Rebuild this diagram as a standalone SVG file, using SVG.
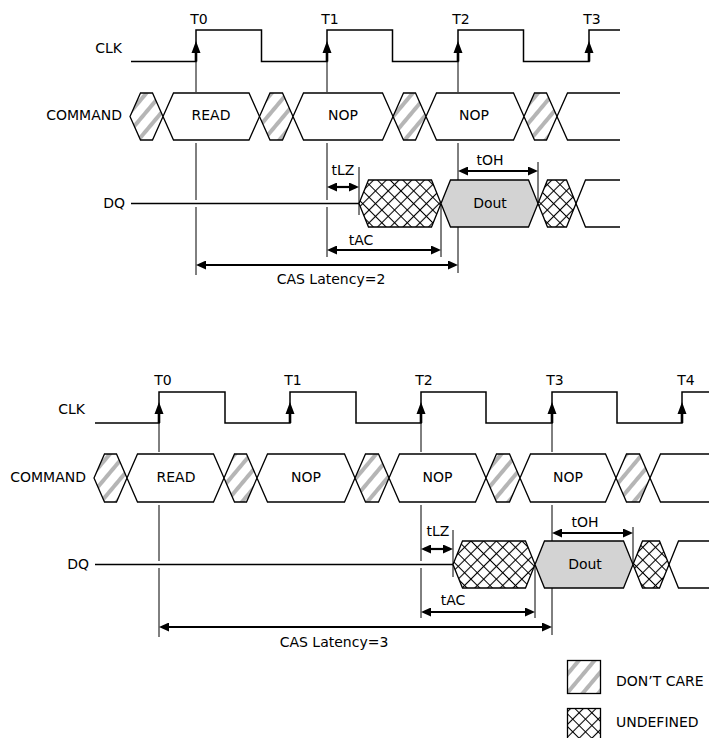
<svg xmlns="http://www.w3.org/2000/svg" width="709" height="738" viewBox="0 0 709 738">
<style>
.lbl{font-family:"DejaVu Sans","Liberation Sans",sans-serif;font-size:14px;fill:#000}
.mid{text-anchor:middle}
.end{text-anchor:end}
.sig{fill:none;stroke:#000;stroke-width:1.5}
.edge{fill:none;stroke:#000;stroke-width:2.6}
.ah{fill:#000;stroke:none}
.bus{stroke:#000;stroke-width:1.3;fill:#fff}
.open{fill:none;stroke:#000;stroke-width:1.3}
.dc{fill:url(#dc);stroke:#000;stroke-width:1.3}
.xh{fill:url(#xh);stroke:#000;stroke-width:1.3}
.dout{fill:#d3d3d3;stroke:#000;stroke-width:1.3}
.ref{fill:none;stroke:#000;stroke-width:1}
.dim{fill:none;stroke:#000;stroke-width:2.2;marker-start:url(#arr);marker-end:url(#arr)}
</style>
<defs>
<pattern id="dc" width="12" height="12" patternUnits="userSpaceOnUse" patternTransform="rotate(40)">
<rect width="12" height="12" fill="#fff"/>
<rect x="2" width="4" height="12" fill="#b5b5b5"/>
</pattern>
<pattern id="xh" width="9" height="9" patternUnits="userSpaceOnUse" patternTransform="rotate(45)">
<rect width="9" height="9" fill="#fff"/>
<path d="M0,4.5 H9 M4.5,0 V9" stroke="#000" stroke-width="1.1"/>
</pattern>
<marker id="arr" viewBox="0 0 10 9" refX="7" refY="4.5" markerWidth="10" markerHeight="9" markerUnits="userSpaceOnUse" orient="auto-start-reverse">
<path d="M0,0 L10,4.5 L0,9 z" fill="#000"/>
</marker>
</defs>

<!-- ===== Top: CAS Latency = 2 ===== -->
<g id="clk-top">
<text class="lbl end" x="122" y="53">CLK</text>
<path class="sig" d="M131,61.5 H196 V30 H261.5 V61.5 H327 V30 H392.5 V61.5 H458 V30 H523.5 V61.5 H589 V30 H620"/>
<path class="edge" d="M196,61.5 V52 M327,61.5 V52 M458,61.5 V52 M589,61.5 V52"/>
<path class="ah" d="M196,41 l-4.5,12 h9 z M327,41 l-4.5,12 h9 z M458,41 l-4.5,12 h9 z M589,41 l-4.5,12 h9 z"/>
<text class="lbl mid" x="199" y="24">T0</text>
<text class="lbl mid" x="330" y="24">T1</text>
<text class="lbl mid" x="461" y="24">T2</text>
<text class="lbl mid" x="592" y="24">T3</text>
</g>

<g id="cmd-top">
<text class="lbl end" x="122" y="120">COMMAND</text>
<polygon class="dc" points="130,116.5 140.5,93 152.5,93 163,116.5 152.5,140 140.5,140"/>
<polygon class="bus" points="163,116.5 173.5,93 249,93 259.5,116.5 249,140 173.5,140"/>
<polygon class="dc" points="259.5,116.5 270,93 282.5,93 293,116.5 282.5,140 270,140"/>
<polygon class="bus" points="293,116.5 303.5,93 382.5,93 393,116.5 382.5,140 303.5,140"/>
<polygon class="dc" points="393,116.5 403.5,93 415.5,93 426,116.5 415.5,140 403.5,140"/>
<polygon class="bus" points="426,116.5 436.5,93 513.5,93 524,116.5 513.5,140 436.5,140"/>
<polygon class="dc" points="524,116.5 534.5,93 546.5,93 557,116.5 546.5,140 534.5,140"/>
<path class="open" d="M620,93 H567.5 L557,116.5 L567.5,140 H620"/>
<text class="lbl mid" x="211" y="120">READ</text>
<text class="lbl mid" x="343" y="120">NOP</text>
<text class="lbl mid" x="474" y="120">NOP</text>
</g>

<g id="connectors-top">
<path class="ref" d="M196,61.5 V92 M196,143 V200 M196,207 V275"/>
<path class="ref" d="M327,61.5 V92 M327,143 V200 M327,207 V257"/>
<path class="ref" d="M458,61.5 V92 M458,143 V273"/>
<path class="ref" d="M359,167 V215 M441,203.5 V257 M538,162 V203.5"/>
<line class="dim" x1="330" y1="187" x2="356" y2="187"/>
<line class="dim" x1="330" y1="250" x2="438" y2="250"/>
<line class="dim" x1="461" y1="171" x2="535" y2="171"/>
<line class="dim" x1="199" y1="265" x2="455" y2="265"/>
</g>

<g id="dq-top">
<text class="lbl end" x="125" y="208">DQ</text>
<path class="sig" style="stroke-width:1.3" d="M131,203.5 H359"/>
<polygon class="xh" points="359,203.5 368.5,180 431.5,180 441,203.5 431.5,227 368.5,227"/>
<polygon class="dout" points="441,203.5 450.5,180 528.5,180 538,203.5 528.5,227 450.5,227"/>
<polygon class="xh" points="538,203.5 547.5,180 566.5,180 576,203.5 566.5,227 547.5,227"/>
<path class="open" d="M620,180 H585.5 L576,203.5 L585.5,227 H620"/>
<text class="lbl mid" x="490" y="208">Dout</text>
</g>

<g id="labels-top">
<text class="lbl mid" x="343" y="175">tLZ</text>
<text class="lbl mid" x="361" y="245">tAC</text>
<text class="lbl mid" x="490" y="165">tOH</text>
<text class="lbl mid" x="331" y="284">CAS Latency=2</text>
</g>

<!-- ===== Bottom: CAS Latency = 3 ===== -->
<g id="clk-bottom">
<text class="lbl end" x="85" y="414">CLK</text>
<path class="sig" d="M95,423 H159 V392 H225 V423 H290 V392 H356 V423 H421 V392 H486 V423 H552 V392 H617 V423 H682 V392 H709"/>
<path class="edge" d="M159,423 V413 M290,423 V413 M421,423 V413 M552,423 V413 M682,423 V413"/>
<path class="ah" d="M159,402 l-4.5,12 h9 z M290,402 l-4.5,12 h9 z M421,402 l-4.5,12 h9 z M552,402 l-4.5,12 h9 z M682,402 l-4.5,12 h9 z"/>
<text class="lbl mid" x="163" y="385">T0</text>
<text class="lbl mid" x="293" y="385">T1</text>
<text class="lbl mid" x="424" y="385">T2</text>
<text class="lbl mid" x="555" y="385">T3</text>
<text class="lbl mid" x="686" y="385">T4</text>
</g>

<g id="cmd-bottom">
<text class="lbl end" x="86" y="482">COMMAND</text>
<polygon class="dc" points="94,478 104.5,454 116.5,454 127,478 116.5,502 104.5,502"/>
<polygon class="bus" points="127,478 137.5,454 213.5,454 224,478 213.5,502 137.5,502"/>
<polygon class="dc" points="224,478 234.5,454 246.5,454 257,478 246.5,502 234.5,502"/>
<polygon class="bus" points="257,478 267.5,454 344.5,454 355,478 344.5,502 267.5,502"/>
<polygon class="dc" points="355,478 365.5,454 378.5,454 389,478 378.5,502 365.5,502"/>
<polygon class="bus" points="389,478 399.5,454 475.5,454 486,478 475.5,502 399.5,502"/>
<polygon class="dc" points="486,478 496.5,454 509.5,454 520,478 509.5,502 496.5,502"/>
<polygon class="bus" points="520,478 530.5,454 605.5,454 616,478 605.5,502 530.5,502"/>
<polygon class="dc" points="616,478 626.5,454 639.5,454 650,478 639.5,502 626.5,502"/>
<path class="open" d="M709,454 H660.5 L650,478 L660.5,502 H709"/>
<text class="lbl mid" x="176" y="482">READ</text>
<text class="lbl mid" x="306" y="482">NOP</text>
<text class="lbl mid" x="437.5" y="482">NOP</text>
<text class="lbl mid" x="568" y="482">NOP</text>
</g>

<g id="connectors-bottom">
<path class="ref" d="M159,423 V452 M159,505 V561 M159,568 V637"/>
<path class="ref" d="M421,423 V452 M421,505 V561 M421,568 V618"/>
<path class="ref" d="M552,423 V452 M552,505 V635"/>
<path class="ref" d="M453,530 V577 M535,564.5 V618 M633,527 V564.5"/>
<line class="dim" x1="424" y1="549" x2="450" y2="549"/>
<line class="dim" x1="424" y1="612" x2="532" y2="612"/>
<line class="dim" x1="555" y1="533" x2="630" y2="533"/>
<line class="dim" x1="162" y1="627" x2="549" y2="627"/>
</g>

<g id="dq-bottom">
<text class="lbl end" x="89" y="569">DQ</text>
<path class="sig" style="stroke-width:1.3" d="M95,564.5 H453"/>
<polygon class="xh" points="453,564.5 462.5,541 525.5,541 535,564.5 525.5,588 462.5,588"/>
<polygon class="dout" points="535,564.5 544.5,541 623.5,541 633,564.5 623.5,588 544.5,588"/>
<polygon class="xh" points="633,564.5 642.5,541 659.5,541 669,564.5 659.5,588 642.5,588"/>
<path class="open" d="M709,541 H678.5 L669,564.5 L678.5,588 H709"/>
<text class="lbl mid" x="585" y="569">Dout</text>
</g>

<g id="labels-bottom">
<text class="lbl mid" x="438" y="536">tLZ</text>
<text class="lbl mid" x="453" y="605">tAC</text>
<text class="lbl mid" x="585" y="527">tOH</text>
<text class="lbl mid" x="334" y="647">CAS Latency=3</text>
</g>

<!-- ===== Legend ===== -->
<g id="legend-dontcare">
<rect x="567.5" y="660.5" width="33" height="33" fill="url(#dc)" stroke="#000" stroke-width="1.3"/>
<text class="lbl" x="616" y="686">DON’T CARE</text>
</g>
<g id="legend-undefined">
<rect x="567.5" y="708.5" width="33" height="33" fill="url(#xh)" stroke="#000" stroke-width="1.3"/>
<text class="lbl" x="616" y="727">UNDEFINED</text>
</g>
</svg>
